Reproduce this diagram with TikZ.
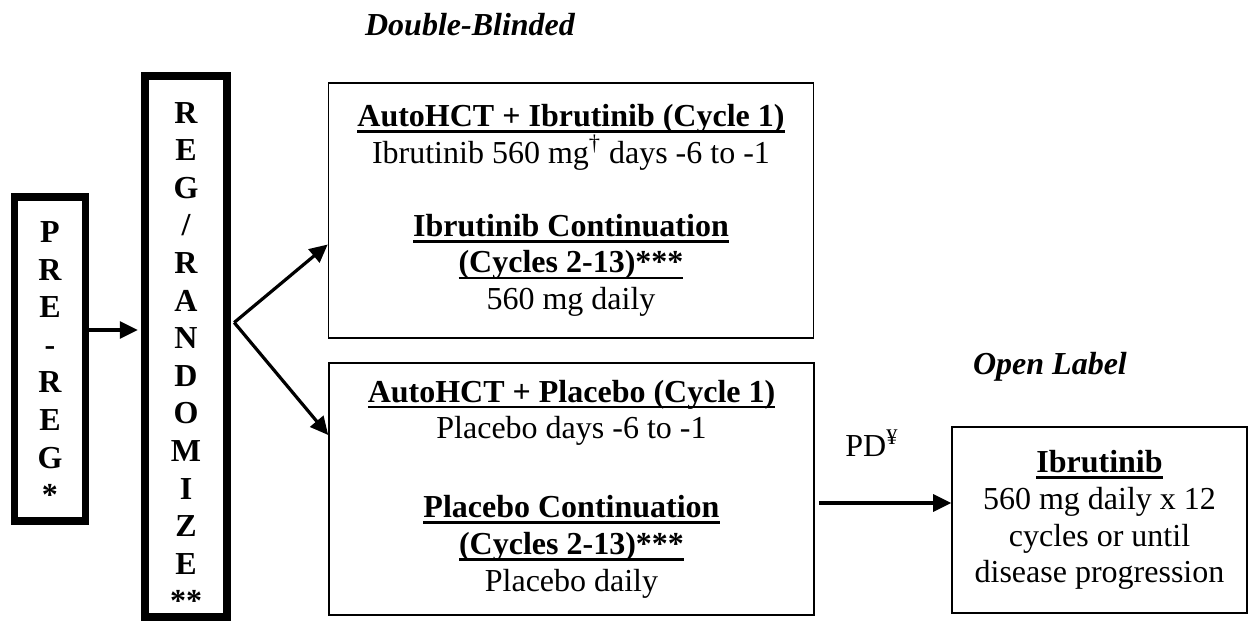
\documentclass[tikz,border=0pt]{standalone}
\usepackage{fontspec}
\setmainfont{Liberation Serif}
\usetikzlibrary{arrows.meta}
\newcommand{\myul}[1]{\setbox0\hbox{#1}\leavevmode\rlap{\rule[-3.2pt]{\wd0}{1.3pt}}\box0}
\tikzset{
  every node/.style={font=\fontsize{16}{18.4}\selectfont, inner sep=0pt},
  thinbox/.style={draw, line width=0.8pt, rectangle, align=center},
  thickbox/.style={draw, line width=3.6pt, rectangle, align=center,
    font=\fontsize{16}{18.8}\selectfont\bfseries},
  arr/.style={line width=1.6pt, -{Triangle[length=9pt,width=8.5pt]}},
  heading/.style={font=\fontsize{16}{18}\selectfont\bfseries\itshape}
}
\begin{document}
\begin{tikzpicture}[x=0.5pt,y=-0.5pt]
\useasboundingbox (0,0) rectangle (1248,622);
\node[thickbox, minimum width=35.5pt, minimum height=162pt] (prereg) at (50,359)
  {\rule{0pt}{15pt}P\\R\\E\\-\\R\\E\\G\\*};
\node[thickbox, minimum width=41pt, minimum height=270.5pt] (rand) at (186,346.5)
  {\rule{0pt}{21pt}R\\E\\G\\/\\R\\A\\N\\D\\O\\M\\I\\Z\\E\\**};
\node[thinbox, minimum width=242.5pt, minimum height=127.5pt] (box1) at (571,210.5)
  {\myul{\textbf{AutoHCT + Ibrutinib (Cycle 1)}}\\
   Ibrutinib 560 mg\textsuperscript{\dag} days -6 to -1\\[18pt]
   \myul{\textbf{Ibrutinib Continuation}}\\
   \myul{\textbf{(Cycles 2-13)***}}\\
   560 mg daily};
\node[thinbox, minimum width=242.5pt, minimum height=126pt] (box2) at (571.5,489)
  {\myul{\textbf{AutoHCT + Placebo (Cycle 1)}}\\
   Placebo days -6 to -1\\[21pt]
   \myul{\textbf{Placebo Continuation}}\\
   \myul{\textbf{(Cycles 2-13)***}}\\
   Placebo daily};
\node[thinbox, minimum width=147.5pt, minimum height=93pt] (box3) at (1099.5,520)
  {\myul{\textbf{Ibrutinib}}\\
   560 mg daily x 12\\
   cycles or until\\
   disease progression};
\node[heading] (db) at (470,25) {Double-Blinded};
\node[heading] (ol) at (1050,367) {Open Label};
\node (pd) at (872,443) {PD\textsuperscript{¥}};
\draw[arr, shorten >=1.8pt] ([yshift=14.5pt]prereg.east) -- ([yshift=8.25pt]rand.west);
\draw[arr] ([yshift=12pt,xshift=1.8pt]rand.east) -- ([yshift=-17pt]box1.west);
\draw[arr] ([yshift=12pt,xshift=1.8pt]rand.east) -- ([yshift=27pt]box2.west);
\draw[arr] ([xshift=2pt,yshift=-7pt]box2.east) -- ([yshift=8.5pt]box3.west);
\end{tikzpicture}
\end{document}
